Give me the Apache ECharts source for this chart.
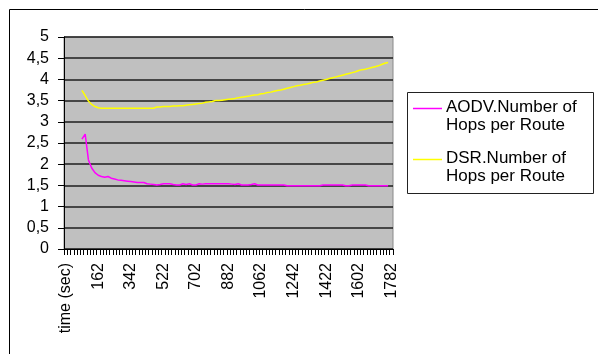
<!DOCTYPE html>
<html>
<head>
<meta charset="utf-8">
<script src="https://cdn.jsdelivr.net/npm/echarts@6/dist/echarts.min.js"></script>
<style>
html,body{margin:0;padding:0;background:#fff;}
#chart{width:598px;height:354px;}
</style>
</head>
<body>
<div id="chart"></div>
<script>
// Category labels: first category is the header cell, then time in seconds
const firstCategory = 'time (sec)';
const timeSec = [];
for (let t = 0; t <= 1782; t += 18) timeSec.push(String(t));
const categories = [firstCategory].concat(timeSec);

const seriesNames = ['AODV.Number of Hops per Route', 'DSR.Number of Hops per Route'];
const startIndex = 5; // first category index holding data

const aodvHops = [
  2.59, 2.71, 2.10, 1.91, 1.80, 1.74, 1.71, 1.69, 1.71, 1.67,
  1.65, 1.63, 1.62, 1.61, 1.60, 1.59, 1.58, 1.57, 1.57, 1.57,
  1.54, 1.53, 1.52, 1.51, 1.52, 1.54, 1.54, 1.54, 1.52, 1.51,
  1.51, 1.54, 1.52, 1.54, 1.51, 1.51, 1.54, 1.53, 1.54, 1.54,
  1.54, 1.54, 1.54, 1.54, 1.54, 1.54, 1.53, 1.52, 1.54, 1.51,
  1.51, 1.51, 1.52, 1.54, 1.51, 1.51, 1.51, 1.51, 1.51, 1.51,
  1.51, 1.51, 1.51, 1.49, 1.49, 1.49, 1.49, 1.49, 1.49, 1.49,
  1.49, 1.49, 1.49, 1.49, 1.51, 1.51, 1.51, 1.51, 1.51, 1.51,
  1.51, 1.49, 1.49, 1.51, 1.51, 1.51, 1.51, 1.51, 1.49, 1.49,
  1.49, 1.49, 1.49, 1.49, 1.49
];
const dsrHops = [
  3.74, 3.62, 3.49, 3.41, 3.36, 3.33, 3.32, 3.32, 3.32, 3.32,
  3.32, 3.32, 3.32, 3.32, 3.32, 3.32, 3.32, 3.32, 3.32, 3.32,
  3.32, 3.32, 3.32, 3.35, 3.35, 3.36, 3.36, 3.36, 3.37, 3.37,
  3.38, 3.38, 3.39, 3.40, 3.41, 3.42, 3.43, 3.44, 3.46, 3.47,
  3.48, 3.50, 3.50, 3.51, 3.52, 3.53, 3.54, 3.55, 3.57, 3.58,
  3.59, 3.60, 3.62, 3.63, 3.64, 3.66, 3.67, 3.69, 3.70, 3.72,
  3.74, 3.75, 3.77, 3.79, 3.81, 3.83, 3.85, 3.86, 3.88, 3.89,
  3.91, 3.93, 3.94, 3.96, 3.98, 4.00, 4.02, 4.04, 4.06, 4.08,
  4.10, 4.12, 4.14, 4.16, 4.18, 4.21, 4.23, 4.24, 4.26, 4.28,
  4.30, 4.32, 4.35, 4.38, 4.40
];
const yTicks = [0, 0.5, 1, 1.5, 2, 2.5, 3, 3.5, 4, 4.5, 5];
const seriesColors = ['#ff00ff', '#ffff00'];

function place(values) {
  const arr = new Array(categories.length).fill(null);
  values.forEach((v, i) => { arr[startIndex + i] = v; });
  return arr;
}

const FONT = 'Liberation Sans, Arial, sans-serif';
const chart = echarts.init(document.getElementById('chart'), null, {renderer: 'canvas'});

const legendX = 407, legendY = 92;
chart.setOption({
  animation: false,
  backgroundColor: '#ffffff',
  grid: {
    left: 64, top: 37, width: 329, height: 212,
    show: true, backgroundColor: '#c0c0c0', borderColor: '#8a8a8a', borderWidth: 1
  },
  xAxis: {
    type: 'category',
    data: categories,
    boundaryGap: true,
    axisLine: {show: true, lineStyle: {color: '#000', width: 1}},
    axisTick: {show: true, interval: 0, alignWithLabel: false, inside: false, length: 6, lineStyle: {color: '#000', width: 1}},
    axisLabel: {
      show: true, interval: 9, rotate: 90, margin: 14,
      color: '#000', fontFamily: FONT, fontSize: 16
    },
    splitLine: {show: false}
  },
  yAxis: {
    type: 'value',
    min: yTicks[0], max: yTicks[yTicks.length - 1], interval: 0.5,
    axisLine: {show: true, lineStyle: {color: '#000', width: 1}},
    axisTick: {show: true, inside: false, length: 6, lineStyle: {color: '#000', width: 1}},
    axisLabel: {
      margin: 15, color: '#000', fontFamily: FONT, fontSize: 16,
      formatter: v => String(v).replace('.', ',')
    },
    splitLine: {show: true, lineStyle: {color: '#1e1e1e', width: 1.6}}
  },
  series: [
    {
      name: seriesNames[0], type: 'line', data: place(aodvHops),
      showSymbol: false, symbol: 'none', connectNulls: false,
      lineStyle: {color: seriesColors[0], width: 1.5}, itemStyle: {color: seriesColors[0]}
    },
    {
      name: seriesNames[1], type: 'line', data: place(dsrHops),
      showSymbol: false, symbol: 'none', connectNulls: false,
      lineStyle: {color: seriesColors[1], width: 1.5}, itemStyle: {color: seriesColors[1]}
    }
  ],
  graphic: [
    {type: 'rect', shape: {x: 9.5, y: 9.5, width: 600, height: 360},
     style: {fill: 'none', stroke: '#000', lineWidth: 1}, silent: true},
    {type: 'rect', shape: {x: legendX + 0.5, y: legendY + 0.5, width: 186, height: 101},
     style: {fill: '#fff', stroke: '#222', lineWidth: 1}, silent: true},
    {type: 'line', shape: {x1: 413, y1: 108.5, x2: 442, y2: 108.5},
     style: {stroke: seriesColors[0], lineWidth: 1.5}, silent: true},
    {type: 'line', shape: {x1: 413, y1: 159.5, x2: 442, y2: 159.5},
     style: {stroke: seriesColors[1], lineWidth: 1.5}, silent: true},
    {type: 'text', left: 446, top: 98,
     style: {text: 'AODV.Number of\nHops per Route', font: '17px ' + FONT, fill: '#000', lineHeight: 18}, silent: true},
    {type: 'text', left: 446, top: 149,
     style: {text: 'DSR.Number of\nHops per Route', font: '17px ' + FONT, fill: '#000', lineHeight: 18}, silent: true}
  ]
});
</script>
</body>
</html>
